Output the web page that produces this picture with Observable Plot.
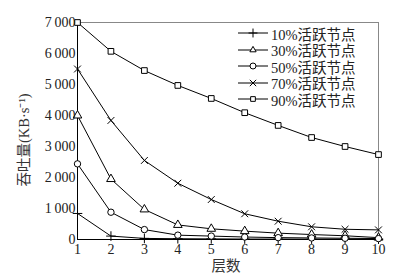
<!DOCTYPE html>
<html><head><meta charset="utf-8">
<script src="https://cdn.jsdelivr.net/npm/d3@7"></script>
<script src="https://cdn.jsdelivr.net/npm/@observablehq/plot@0.6"></script>
<style>
body{margin:0;background:#fff;}
#wrap{position:relative;width:399px;height:276px;font-family:"Liberation Serif","Noto Sans CJK SC",serif;}
#legend{position:absolute;left:238px;top:25px;font-size:14.5px;color:#222;}
.row{display:flex;align-items:center;height:16.5px;white-space:nowrap;}
.row svg{margin-right:2px;}
</style></head>
<body><div id="wrap"><div id="legend"></div></div>
<script>
const layers = [1,2,3,4,5,6,7,8,9,10];
const seriesNames = ["10%活跃节点","30%活跃节点","50%活跃节点","70%活跃节点","90%活跃节点"];
const symbols = ["plus","triangle","circle","times","square"];
const s10 = [840,110,35,25,20,15,15,12,10,10];
const s30 = [4000,1950,970,470,345,270,205,160,120,60];
const s50 = [2440,880,320,140,110,80,60,50,40,30];
const s70 = [5500,3840,2550,1815,1290,830,590,410,330,310];
const s90 = [7000,6070,5450,4970,4550,4090,3680,3290,3000,2740];
const yTicks = [0,1000,2000,3000,4000,5000,6000,7000];
const xLabel = "层数";
const yLabel = "吞吐量(KB·s⁻¹)";

const allSeries = [s10,s30,s50,s70,s90];
const fmt = d => d === 0 ? "0" : d3.format(",")(d).replace(",", "\u2009");

const marks = [
  Plot.frame({stroke:"#888"}),
  Plot.ruleX([1],{stroke:"#000"}),
  Plot.ruleY([0],{stroke:"#000"})
];
allSeries.forEach((vals,i)=>{
  const data = layers.map((x,j)=>({x, y: vals[j]}));
  marks.push(Plot.line(data,{x:"x",y:"y",stroke:"#000",strokeWidth:1}));
  marks.push(Plot.dot(data,{x:"x",y:"y",symbol:symbols[i],r:3.2,stroke:"#000",fill:"white",strokeWidth:1}));
});
marks.push(Plot.axisY({ticks:yTicks,tickFormat:fmt,tickSize:0,tickPadding:2,fontSize:14,label:null}));
marks.push(Plot.axisX({ticks:layers,tickFormat:d=>d,tickSize:0,tickPadding:5,fontSize:14,label:null}));

const chart = Plot.plot({
  width:399, height:276,
  marginLeft:77, marginRight:21, marginTop:22, marginBottom:37,
  x:{domain:[1,10]},
  y:{domain:[0,7000]},
  style:{fontFamily:'"Liberation Serif","Noto Sans CJK SC",serif',color:"#222",background:"white"},
  marks
});
const svg = d3.select(chart);
svg.append("text").attr("x",226).attr("y",271).attr("text-anchor","middle")
  .attr("font-size",14.5).attr("fill","#333").text(xLabel);
svg.append("text").attr("transform","translate(29,140) rotate(-90)").attr("text-anchor","middle")
  .attr("font-size",14.5).attr("fill","#333").text(yLabel);
document.getElementById("wrap").prepend(chart);

const legend = d3.select("#legend");
seriesNames.forEach((name,i)=>{
  const row = legend.append("div").attr("class","row");
  const s = row.append("svg").attr("width",31).attr("height",12);
  s.append("line").attr("x1",0).attr("x2",30).attr("y1",6).attr("y2",6).attr("stroke","#000");
  const sym = {plus:d3.symbolPlus,triangle:d3.symbolTriangle2,circle:d3.symbolCircle,times:d3.symbolTimes,square:d3.symbolSquare2}[symbols[i]];
  s.append("path").attr("d",d3.symbol(sym,28)()).attr("transform","translate(15,6)")
    .attr("fill","white").attr("stroke","#000");
  row.append("span").text(name);
});
</script></body></html>
